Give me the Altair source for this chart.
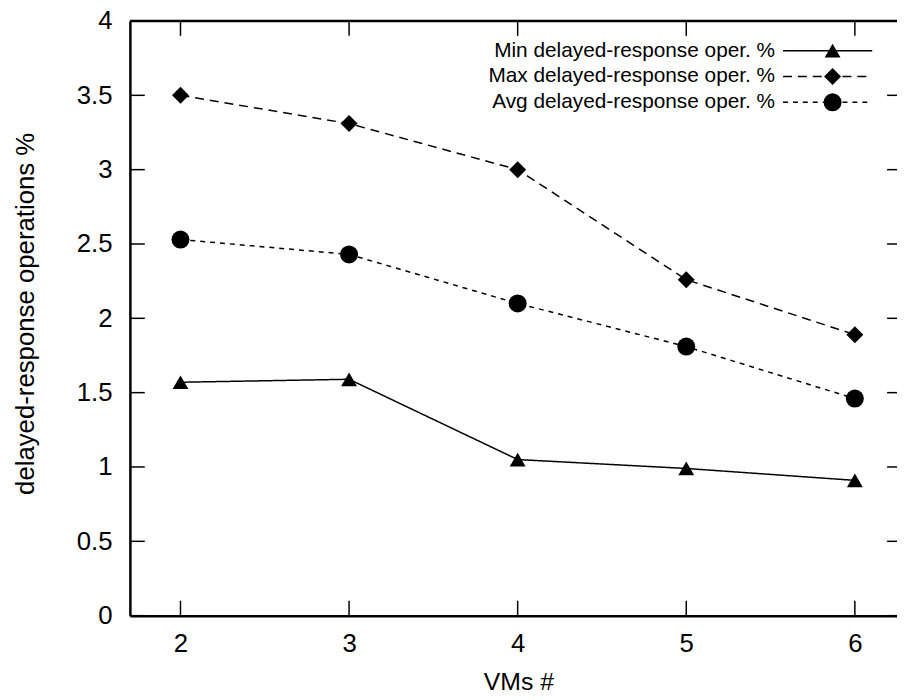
import altair as alt
import pandas as pd

# ---- data ----
vms = [2, 3, 4, 5, 6]
min_vals = [1.57, 1.59, 1.05, 0.99, 0.91]
max_vals = [3.50, 3.31, 3.00, 2.26, 1.89]
avg_vals = [2.53, 2.43, 2.10, 1.81, 1.46]
series_names = [
    "Min delayed-response oper. %",
    "Max delayed-response oper. %",
    "Avg delayed-response oper. %",
]
legend_rows = [0, 1, 2]
x_tick_values = [2, 3, 4, 5, 6]
y_tick_values = [0, 0.5, 1, 1.5, 2, 2.5, 3, 3.5, 4]

FONT = "Liberation Sans"
W, H = 774, 600

rows = []
for name, vals in zip(series_names, [min_vals, max_vals, avg_vals]):
    for x, v in zip(vms, vals):
        rows.append({"vms": x, "value": v, "series": name})
df = pd.DataFrame(rows)
df_xt = pd.DataFrame({"vms": x_tick_values})
df_yt = pd.DataFrame({"value": y_tick_values})
df_leg = pd.DataFrame({"series": series_names, "row": legend_rows})

x_enc = alt.X(
    "vms:Q",
    scale=alt.Scale(domain=[1.7, 6.25], nice=False, zero=False),
    axis=alt.Axis(
        values=x_tick_values, tickSize=0, labelPadding=15, labelFontSize=26,
        labelFont=FONT, labelColor="black", grid=False, domainColor="black",
        domainWidth=2.5, title="VMs #", titleFont=FONT, titleFontSize=25,
        titleFontWeight="normal", titleColor="black", titleBaseline="alphabetic",
        titleY=75, titleX=392,
    ),
)
y_enc = alt.Y(
    "value:Q",
    scale=alt.Scale(domain=[0, 4], nice=False, zero=False),
    axis=alt.Axis(
        values=y_tick_values, format="~g", tickSize=0, labelPadding=18,
        labelFontSize=26, labelFont=FONT, labelColor="black", grid=False,
        domainColor="black", domainWidth=2.5,
        title="delayed-response operations %", titleFont=FONT, titleFontSize=26,
        titleFontWeight="normal", titleColor="black", titleX=-105, titleY=295,
        titleBaseline="middle", titleAngle=-90,
    ),
)

dash_scale = alt.Scale(domain=series_names, range=[[1, 0], [9, 6], [5, 5]])
shape_scale = alt.Scale(domain=series_names, range=["triangle-up", "diamond", "circle"])
size_scale = alt.Scale(domain=series_names, range=[256, 330, 289])

lines = alt.Chart(df).mark_line(color="black", strokeWidth=1.5).encode(
    x=x_enc, y=y_enc,
    strokeDash=alt.StrokeDash("series:N", scale=dash_scale, legend=None),
)
points = alt.Chart(df).mark_point(filled=True, color="black", opacity=1).encode(
    x=x_enc, y=y_enc,
    shape=alt.Shape("series:N", scale=shape_scale, legend=None),
    size=alt.Size("series:N", scale=size_scale, legend=None),
)

tick_style = dict(color="black", strokeWidth=1.5)
bottom_ticks = alt.Chart(df_xt).mark_rule(**tick_style).encode(
    x=x_enc, y=alt.value(H), y2=alt.value(H - 15))
top_ticks = alt.Chart(df_xt).mark_rule(**tick_style).encode(
    x=x_enc, y=alt.value(0), y2=alt.value(15))
left_ticks = alt.Chart(df_yt).mark_rule(**tick_style).encode(
    y=y_enc, x=alt.value(0), x2=alt.value(15))
right_ticks = alt.Chart(df_yt).mark_rule(**tick_style).encode(
    y=y_enc, x=alt.value(W - 10), x2=alt.value(W))
top_border = alt.Chart(df_leg.head(1)).mark_rule(color="black", strokeWidth=2.5).encode(
    x=alt.value(0), x2=alt.value(W), y=alt.value(0))

main = alt.layer(lines, points, bottom_ticks, top_ticks, left_ticks, right_ticks, top_border)

leg_y = alt.Y("row:Q", scale=alt.Scale(domain=[0, 2], range=[30, 82], nice=False, zero=False), axis=None)
leg_text = alt.Chart(df_leg).mark_text(
    align="right", baseline="middle", font=FONT, fontSize=21, color="black"
).encode(x=alt.value(651), y=leg_y, text="series:N")
leg_line = alt.Chart(df_leg).mark_rule(color="black", strokeWidth=1.5).encode(
    x=alt.value(659), x2=alt.value(749), y=leg_y,
    strokeDash=alt.StrokeDash("series:N", scale=dash_scale, legend=None),
)
leg_pt = alt.Chart(df_leg).mark_point(filled=True, color="black", opacity=1).encode(
    x=alt.value(709), y=leg_y,
    shape=alt.Shape("series:N", scale=shape_scale, legend=None),
    size=alt.Size("series:N", scale=size_scale, legend=None),
)
legend = alt.layer(leg_line, leg_pt, leg_text)

chart = alt.layer(main, legend).resolve_scale(y="independent").properties(
    width=W, height=H,
    autosize=alt.AutoSizeParams(type="none"),
    padding={"left": 123, "top": 10, "right": 0, "bottom": 82},
    background="white",
).configure_view(stroke=None)

chart.save("out.html", embed_options={"renderer": "svg", "actions": False})
